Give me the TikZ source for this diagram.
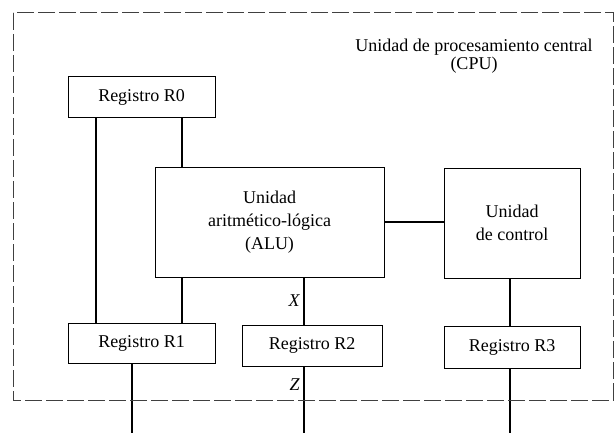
\documentclass[tikz,border=0pt]{standalone}
\usepackage{fontspec}
\setmainfont{Liberation Serif}
\usetikzlibrary{calc}

\begin{document}
\begin{tikzpicture}[
  x=1pt, y=-1pt,
  font=\fontsize{18}{23}\selectfont,
  box/.style={draw, line width=1pt, inner sep=0pt, align=center},
  bus/.style={line width=2.6pt},
  frame/.style={draw=black!75, line width=1pt, dash pattern=on 17pt off 4pt},
  lbl/.style={font=\fontsize{18}{20}\selectfont\itshape, inner sep=3pt}
]
\useasboundingbox (0,0) rectangle (615,433);

\node[box, minimum width=147pt, minimum height=41pt] (r0) at (141.5, 97.5) {Registro R0};
\node[box, minimum width=229pt, minimum height=110pt] (alu) at (269.5, 222) {Unidad\\aritmético-lógica\\(ALU)};
\node[box, minimum width=136pt, minimum height=110pt] (uc) at (512, 223) {Unidad\\de control};
\node[box, minimum width=147pt, minimum height=40pt] (r1) at (141.5, 343) {Registro R1};
\node[box, minimum width=140pt, minimum height=41pt] (r2) at (312, 345.5) {Registro R2};
\node[box, minimum width=136pt, minimum height=42pt] (r3) at (512, 347) {Registro R3};

\node[align=center, font=\fontsize{18}{18.5}\selectfont] (cpu) at (474, 56) {Unidad de procesamiento central\\(CPU)};

% free ends at the bottom edge
\coordinate (o1) at (132, 433);
\coordinate (o2) at (304, 433);
\coordinate (o3) at (510, 433);

\draw[bus] ([xshift=-45.5pt]r0.south) -- ([xshift=-45.5pt]r1.north);
\draw[bus] ([xshift=40.5pt]r0.south) -- ([xshift=40.5pt]r0.south |- alu.north);
\draw[bus] ([xshift=40.5pt]r1.north |- alu.south) -- ([xshift=40.5pt]r1.north);
\draw[bus] ([xshift=-8pt]r2.north |- alu.south) -- node[lbl, left] {X} ([xshift=-8pt]r2.north);
\draw[bus] (alu.east) -- (alu.east -| uc.west);
\draw[bus] (uc.south -| o3) -- (r3.north -| o3);

\draw[bus] (r1.south -| o1) -- (o1);
\draw[bus] (r2.south -| o2) -- node[lbl, left, pos=0.27] {Z} (o2);
\draw[bus] (r3.south -| o3) -- (o3);

\draw[frame] (13,13) rectangle (613,400);
\end{tikzpicture}
\end{document}
